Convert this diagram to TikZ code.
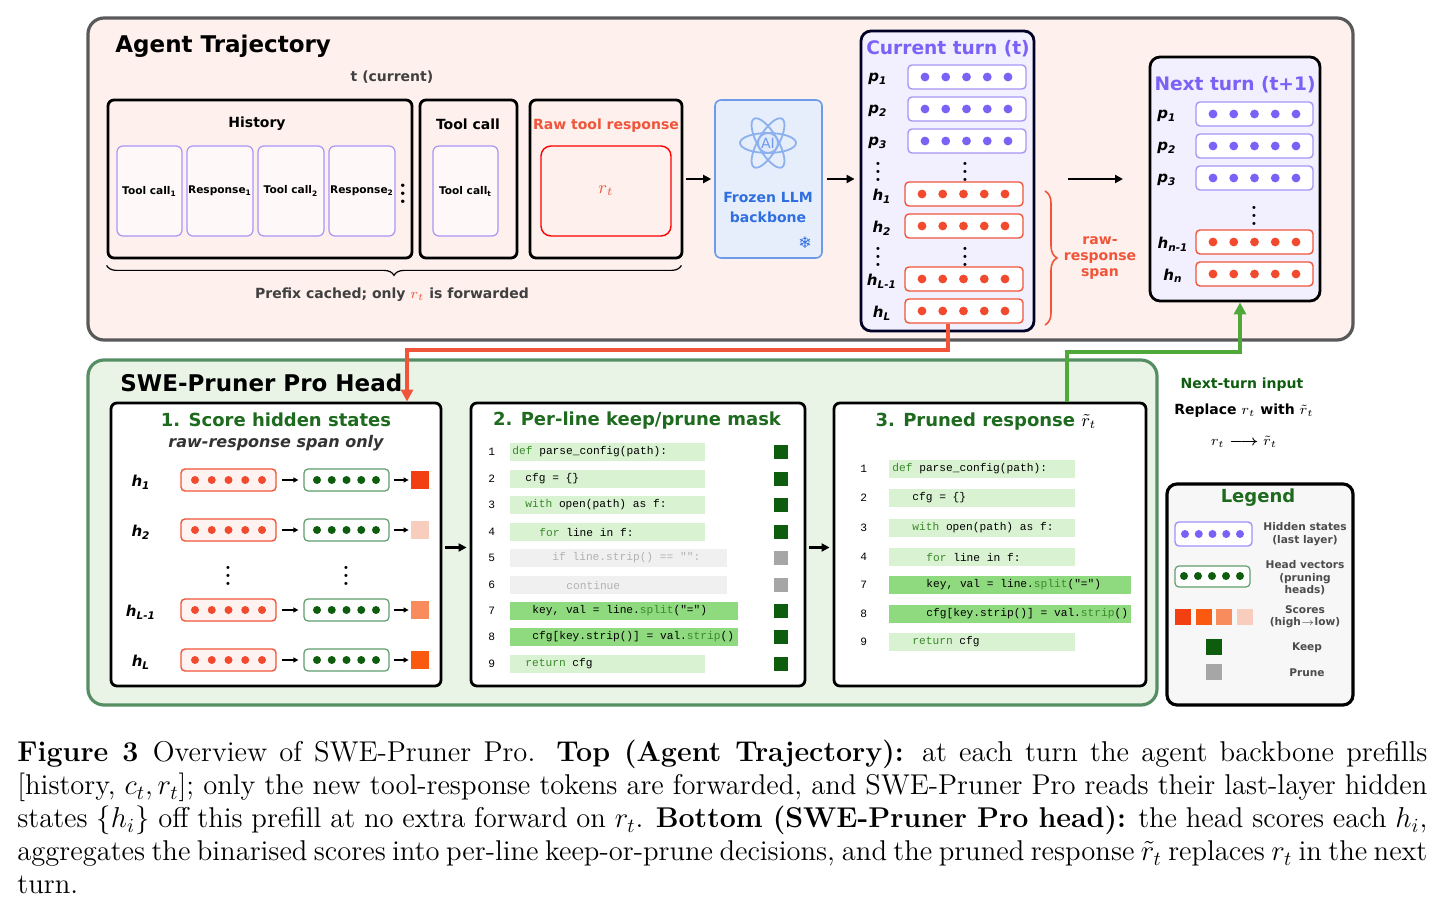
\documentclass[tikz,border=0pt]{standalone}
\usepackage{fontspec}
\usepackage{amsmath}
\setsansfont{DejaVu Sans}
\setmonofont{Liberation Mono}
\newfontfamily\symfont{DejaVu Sans}
\usetikzlibrary{arrows.meta,positioning,calc,decorations.pathreplacing}

\definecolor{pinkbg}{HTML}{FDF0ED}
\definecolor{greenbg}{HTML}{E9F4E7}
\definecolor{purp}{HTML}{7B61F5}
\definecolor{purpline}{HTML}{A995F5}
\definecolor{redline}{HTML}{F0553A}
\definecolor{reddot}{HTML}{F24A2E}
\definecolor{dkgreen}{HTML}{0E5C0E}
\definecolor{ttlgreen}{HTML}{1E6A1E}
\definecolor{grnline}{HTML}{5E9E6E}
\definecolor{lightbar}{HTML}{D9F2D2}
\definecolor{strongbar}{HTML}{8FD97F}
\definecolor{graybar}{HTML}{F0F0F0}
\definecolor{prunegray}{HTML}{A6A6A6}
\definecolor{llmblue}{HTML}{2F6FE0}
\definecolor{kwgreen}{HTML}{3A8A2A}
\definecolor{nextgreen}{HTML}{4FA83A}

% box node from corner coordinates (pixels)
\newcommand\bx[6][]{\node[#1, minimum width={((#4)-(#2))*0.5pt}, minimum height={((#5)-(#3))*0.5pt}, inner sep=0pt] (#6) at ({((#2)+(#4))/2},{((#3)+(#5))/2}) {};}
\newcommand\dotrow[5]{\foreach \k in {0,...,4} \fill[#4] ({#1+\k*(#2-#1)/4},#3) circle (#5);}
\newcommand\lab[2]{\textit{#1}\textsubscript{\textit{#2}}}
\newcommand\kw[1]{\textcolor{kwgreen}{#1}}

\tikzset{
  frame/.style={draw=black, line width=1.4pt, rounded corners=3pt},
  inner/.style={draw=purpline, line width=0.6pt, rounded corners=3pt, fill=white!60!pinkbg},
  hrow/.style={draw=redline, line width=0.7pt, rounded corners=2pt, fill=white},
  prow/.style={draw=purpline, line width=0.7pt, rounded corners=2pt, fill=white},
  gbox/.style={draw=grnline, line width=0.6pt, rounded corners=2pt, fill=white!90!greenbg},
  rlab/.style={font=\sffamily\bfseries\fontsize{7.5}{8}\selectfont},
  small/.style={font=\sffamily\bfseries\fontsize{5.3}{6}\selectfont},
  code/.style={font=\ttfamily\fontsize{5.6}{6}\selectfont, anchor=west, inner sep=0pt},
  arr/.style={-{Triangle[length=4pt,width=4pt]}, line width=1.3pt},
  sarr/.style={-{Triangle[length=2.5pt,width=2.5pt]}, line width=0.7pt},
}

\begin{document}
\begin{tikzpicture}[x=0.5pt,y=-0.5pt]
  \useasboundingbox (0,0) rectangle (1446,914);

  % top panel
  \bx[draw=black!65, fill=pinkbg, line width=1.6pt, rounded corners=8pt]{88}{18}{1353}{340}{top}
  \node[anchor=west, inner sep=0pt, font=\sffamily\bfseries\fontsize{11.5}{12}\selectfont] (toptitle) at (115,46) {Agent Trajectory};
  \node[font=\sffamily\bfseries\fontsize{7}{8}\selectfont, text=black!75] (tcur) at (392,77) {t (current)};

  \bx[frame]{108}{100}{412}{258}{hist}
  \node[font=\sffamily\bfseries\fontsize{7}{8}\selectfont] (histlab) at (257,124) {History};
  \bx[inner]{117}{146}{182}{236}{hA}
  \bx[inner]{187}{146}{253}{236}{hB}
  \bx[inner]{258}{146}{324}{236}{hC}
  \bx[inner]{329}{146}{395}{236}{hD}
  \node[small] at (hA) {Tool call\textsubscript{1}};
  \node[small] at (hB) {Response\textsubscript{1}};
  \node[small] at (hC) {Tool call\textsubscript{2}};
  \node[small] at (hD) {Response\textsubscript{2}};
  \node[font=\bfseries\large] (hdots) at (403,188) {$\vdots$};

  \bx[frame]{420}{100}{517}{258}{tool}
  \node[font=\sffamily\bfseries\fontsize{7}{8}\selectfont] (toollab) at (468,124) {Tool call};
  \bx[inner]{433}{146}{498}{236}{tA}
  \node[small] at (tA) {Tool call\textsubscript{t}};

  \bx[frame]{530}{100}{682}{258}{raw}
  \node[font=\sffamily\bfseries\fontsize{7}{8}\selectfont, text=redline] (rawlab) at (606,126) {Raw tool response};
  \bx[draw=red, line width=0.7pt, rounded corners=5pt]{541}{146}{671}{236}{rA}
  \node[text=redline, font=\small] at (rA) {$r_t$};

  \bx[draw=llmblue!70, fill=llmblue!12, line width=0.8pt, rounded corners=3pt]{715}{100}{822}{258}{llm}
  \begin{scope}[llmblue!55, line width=0.9pt]
    \draw (768,143) ellipse [x radius=28, y radius=10];
    \draw[rotate around={60:(768,143)}] (768,143) ellipse [x radius=28, y radius=10];
    \draw[rotate around={-60:(768,143)}] (768,143) ellipse [x radius=28, y radius=10];
    \draw[fill=llmblue!15] (768,143) circle (5pt);
  \end{scope}
  \node[text=llmblue!70, font=\sffamily\fontsize{7}{8}\selectfont] (ai) at (768,143) {AI};
  \node[text=llmblue, font=\sffamily\bfseries\fontsize{7}{8}\selectfont, align=center] (llmlab) at (768,207) {Frozen LLM\\[2pt]backbone};
  \node[text=llmblue, font=\symfont\fontsize{8}{8}\selectfont] (snow) at (805,243) {❄};

  \draw[arr] ($(raw.east)+(3,0)$) -- ($(llm.west)+(-3,0)$);

  \draw[decorate, decoration={brace, mirror, amplitude=5pt}, line width=0.6pt] ($(hist.south west)+(0,6)$) -- ($(raw.south east)+(-2,6)$);
  \node[font=\sffamily\bfseries\fontsize{7}{8}\selectfont, text=black!75] (prefix) at (392,295) {Prefix cached; only \textcolor{redline}{$r_t$} is forwarded};

  % current turn
  \bx[draw=black!85!blue, fill=purp!10, line width=1.4pt, rounded corners=5pt]{861}{31}{1034}{331}{cur}
  \node[text=purp, font=\sffamily\bfseries\fontsize{9.3}{10}\selectfont] (curlab) at (948,49) {Current turn (t)};
  \draw[arr] ($(llm.east)+(4,0)$) -- ($(llm.east -| cur.west)+(-5,0)$);
  \foreach \nm/\y/\l in {pa/77/\lab{p}{1}, pb/109/\lab{p}{2}, pc/141/\lab{p}{3}} {
    \bx[prow]{908}{\y-12}{1026}{\y+12}{\nm}
    \dotrow{925}{1008}{\y}{purp}{2.2pt}
    \node[rlab] at (878,\y+2) {\l};
  }
  \foreach \nm/\y/\l in {ha/194/\lab{h}{1}, hb/226/\lab{h}{2}, hc/279/\lab{h}{L-1}, hd/311/\lab{h}{L}} {
    \bx[hrow]{905}{\y-12}{1023}{\y+12}{\nm}
    \dotrow{922}{1005}{\y}{reddot}{2.2pt}
    \node[rlab] at (882,\y+2) {\l};
  }
  \foreach \xx/\yy in {878/166, 965/166, 878/251, 965/251} \node[font=\bfseries] at (\xx,\yy) {$\vdots$};

  \draw[decorate, decoration={brace, amplitude=6pt}, draw=redline, line width=0.8pt] (1045,191) -- (1045,325);
  \node[text=redline, font=\sffamily\bfseries\fontsize{7}{8}\selectfont, align=center] (span) at (1100,258) {raw-\\response\\span};

  % next turn
  \bx[draw=black, fill=purp!10, line width=1.4pt, rounded corners=5pt]{1150}{57}{1320}{301}{nxt}
  \node[text=purp, font=\sffamily\bfseries\fontsize{9.3}{10}\selectfont] (nxtlab) at (1235,85) {Next turn (t+1)};
  \coordinate (ca) at (1068,179);
  \coordinate (cb) at (1123,179);
  \draw[arr] (ca) -- (cb);
  \foreach \nm/\y/\l in {na/114/\lab{p}{1}, nb/146/\lab{p}{2}, nc/178/\lab{p}{3}} {
    \bx[prow]{1196}{\y-12}{1313}{\y+12}{\nm}
    \dotrow{1213}{1296}{\y}{purp}{2.2pt}
    \node[rlab] at (1167,\y+2) {\l};
  }
  \foreach \nm/\y/\l in {nd/242/\lab{h}{n-1}, ne/274/\lab{h}{n}} {
    \bx[hrow]{1196}{\y-12}{1313}{\y+12}{\nm}
    \dotrow{1213}{1296}{\y}{reddot}{2.2pt}
    \node[rlab] at (1173,\y+2) {\l};
  }
  \node[font=\bfseries] at (1254,210) {$\vdots$};

  % bottom panel
  \bx[draw=grnline!90!black, fill=greenbg, line width=1.6pt, rounded corners=8pt]{88}{360}{1157}{705}{bot}
  \node[anchor=west, inner sep=0pt, font=\sffamily\bfseries\fontsize{11.5}{12}\selectfont] (bottitle) at (120,383) {SWE-Pruner Pro Head};

  % panel 1
  \bx[frame, fill=white]{111}{403}{441}{686}{pone}
  \node[text=ttlgreen, font=\sffamily\bfseries\fontsize{9}{10}\selectfont] (ponet) at (276,420) {1. Score hidden states};
  \node[text=black!80, font=\sffamily\bfseries\itshape\fontsize{8}{9}\selectfont] (ponest) at (276,443) {raw-response span only};
  \foreach \i/\y/\l/\sc in {1/480/\lab{h}{1}/F24010, 2/530/\lab{h}{2}/F8CDBE, 3/610/\lab{h}{L-1}/F98C5C, 4/660/\lab{h}{L}/FA5A10} {
    \bx[hrow, fill=redline!7]{181}{\y-11}{276}{\y+11}{sr\i}
    \dotrow{195}{262}{\y}{reddot}{2pt}
    \bx[gbox]{304}{\y-11}{389}{\y+11}{sg\i}
    \dotrow{317}{376}{\y}{dkgreen}{2pt}
    \definecolor{sccol}{HTML}{\sc}
    \bx[fill=sccol]{411}{\y-9}{429}{\y+9}{sq\i}
    \draw[sarr] ($(sr\i.east)+(5,0)$) -- ($(sg\i.west)+(-5,0)$);
    \draw[sarr] ($(sg\i.east)+(4,0)$) -- ($(sq\i.west)+(-2,0)$);
    \node[rlab] at (141,\y+2) {\l};
  }
  \node[font=\bfseries] at (228,570) {$\vdots$};
  \node[font=\bfseries] at (346,570) {$\vdots$};

  % panel 2
  \bx[frame, fill=white]{471}{403}{805}{686}{ptwo}
  \node[text=ttlgreen, font=\sffamily\bfseries\fontsize{9}{10}\selectfont] (ptwot) at (637,421) {2. Per-line keep/prune mask};
  \draw[arr] ($(pone.east)+(3,3)$) -- ($(ptwo.west)+(-3,3)$);
  \foreach \n/\y/\bw/\bc/\mk/\tx/\txt in {
      1/452/705/lightbar/dkgreen/512/{\kw{def} parse\_config(path):},
      2/479/705/lightbar/dkgreen/525/{cfg = \{\}},
      3/505/705/lightbar/dkgreen/525/{\kw{with} open(path) as f:},
      4/532/705/lightbar/dkgreen/539/{\kw{for} line in f:},
      5/558/727/graybar/prunegray/552/{\textcolor{black!30}{if line.strip() == "":}},
      6/585/727/graybar/prunegray/566/{\textcolor{black!30}{continue}},
      7/611/738/strongbar/dkgreen/532/{key, val = line.\kw{split}("=")},
      8/637/738/strongbar/dkgreen/532/{cfg[key.strip()] = val.\kw{strip}()},
      9/664/705/lightbar/dkgreen/525/{\kw{return} cfg}} {
    \fill[\bc] (510,\y-9) rectangle (\bw,\y+9);
    \fill[\mk] (774,\y-7) rectangle (788,\y+7);
    \node[code] at (488,\y) {\n};
    \node[code] at (\tx,\y) {\txt};
  }

  % panel 3
  \bx[frame, fill=white]{834}{403}{1146}{686}{pthree}
  \node[text=ttlgreen, font=\sffamily\bfseries\fontsize{9}{10}\selectfont] (pthreet) at (986,422) {3. Pruned response \textcolor{black}{$\tilde{r}_t$}};
  \draw[arr] ($(ptwo.east)+(3,3)$) -- ($(pthree.west)+(-3,3)$);
  \foreach \n/\y/\bw/\bc/\tx/\txt in {
      1/469/1075/lightbar/892/{\kw{def} parse\_config(path):},
      2/498/1075/lightbar/912/{cfg = \{\}},
      3/528/1075/lightbar/912/{\kw{with} open(path) as f:},
      4/557/1075/lightbar/926/{\kw{for} line in f:},
      7/585/1131/strongbar/926/{key, val = line.\kw{split}("=")},
      8/614/1131/strongbar/926/{cfg[key.strip()] = val.\kw{strip}()},
      9/642/1075/lightbar/912/{\kw{return} cfg}} {
    \fill[\bc] (889,\y-9) rectangle (\bw,\y+9);
    \node[code] at (860,\y) {\n};
    \node[code] at (\tx,\y) {\txt};
  }

  % connectors between panels
  \draw[redline, line width=2pt, -{Triangle[length=6pt,width=6pt]}] (hd.south -| 948,0) |- (407,350) -- (pone.north -| 407,0);
  \draw[nextgreen, line width=2pt, -{Triangle[length=6pt,width=6pt]}] (pthree.north -| 1067,0) |- (1240,352) -- (nxt.south -| 1240,0);

  % next-turn input text
  \node[text=dkgreen, font=\sffamily\bfseries\fontsize{7}{8}\selectfont] (ntin) at (1242,385) {Next-turn input};
  \node[font=\sffamily\bfseries\fontsize{7}{8}\selectfont] (repl) at (1244,411) {Replace $r_t$ with $\tilde{r}_t$};
  \node[font=\sffamily\fontsize{7}{8}\selectfont] (rr) at (1244,442) {$r_t \boldsymbol{\longrightarrow} \tilde{r}_t$};

  % legend
  \bx[frame, fill=black!3, line width=1.6pt, rounded corners=5pt]{1167}{484}{1353}{705}{leg}
  \node[text=ttlgreen, font=\sffamily\bfseries\fontsize{9}{10}\selectfont] (legt) at (1258,498) {Legend};
  \bx[prow, draw=purp!70]{1175}{522}{1252}{546}{lgp}
  \dotrow{1185}{1240}{534}{purp}{2pt}
  \bx[gbox]{1175}{566}{1250}{587}{lgg}
  \dotrow{1184}{1240}{576}{dkgreen}{2pt}
  \foreach \xx/\cc in {1183/F24010, 1204/FA5A10, 1224/F98C5C, 1245/F8CDBE} {
    \definecolor{lc}{HTML}{\cc}
    \fill[lc] (\xx-8,609) rectangle (\xx+8,625);
  }
  \fill[dkgreen] (1206,639) rectangle (1222,655);
  \fill[prunegray] (1206,664) rectangle (1222,680);
  \begin{scope}[every node/.style={text=black!70, font=\sffamily\bfseries\fontsize{5.3}{6.2}\selectfont, align=center}]
    \node (l1) at (1305,534) {Hidden states\\(last layer)};
    \node (l2) at (1305,578) {Head vectors\\(pruning\\heads)};
    \node (l3) at (1305,617) {Scores\\(high$\rightarrow$low)};
    \node (l4) at (1307,648) {Keep};
    \node (l5) at (1307,673) {Prune};
  \end{scope}

  % caption
  \node[anchor=north west, text width=705pt, align=justify, inner sep=0pt, font=\fontsize{14.3}{16.5}\selectfont] (cap) at (17,740)
    {\textbf{Figure 3}\enspace Overview of SWE-Pruner Pro. \textbf{Top (Agent Trajectory):} at each turn the agent backbone prefills [history, $c_t, r_t$]; only the new tool-response tokens are forwarded, and SWE-Pruner Pro reads their last-layer hidden states $\{h_i\}$ off this prefill at no extra forward on $r_t$. \textbf{Bottom (SWE-Pruner Pro head):} the head scores each $h_i$, aggregates the binarised scores into per-line keep-or-prune decisions, and the pruned response $\tilde{r}_t$ replaces $r_t$ in the next\linebreak turn.};
\end{tikzpicture}
\end{document}
